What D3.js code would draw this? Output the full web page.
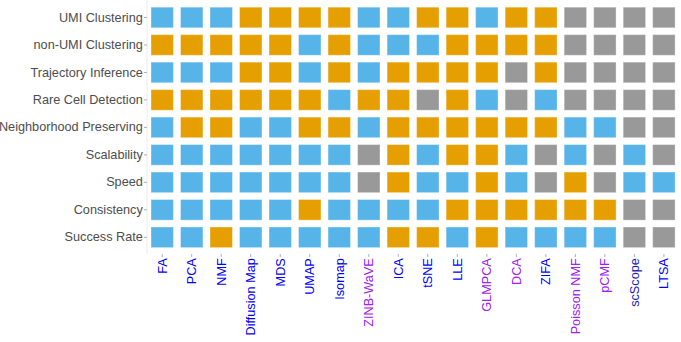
<!DOCTYPE html>
<html>
<head>
<meta charset="utf-8">
<script src="https://cdn.jsdelivr.net/npm/d3@7"></script>
<style>
  html, body { margin: 0; padding: 0; background: #ffffff; }
  svg { display: block; }
  text { font-family: "Liberation Sans", Arial, Helvetica, sans-serif; }
</style>
</head>
<body>
<svg id="chart" width="681" height="342"></svg>
<script>
// Methods along the x axis and the criteria down the y axis
const methods = ["FA", "PCA", "NMF", "Diffusion Map", "MDS", "UMAP", "Isomap", "ZINB-WaVE",
  "ICA", "tSNE", "LLE", "GLMPCA", "DCA", "ZIFA", "Poisson NMF", "pCMF", "scScope", "LTSA"];
const criteria = ["UMI Clustering", "non-UMI Clustering", "Trajectory Inference", "Rare Cell Detection",
  "Neighborhood Preserving", "Scalability", "Speed", "Consistency", "Success Rate"];

// Method family, used to colour the method labels
const methodType = ["lin", "lin", "lin", "lin", "lin", "lin", "lin", "count",
  "lin", "lin", "lin", "count", "count", "lin", "count", "count", "deep", "lin"];

// Rating per criterion (rows) and method (columns): G = good, P = poor, N = not available
const ratings = [
  "GGGPPPPGGPPGPPNNNN",
  "PPPPPGPGGGPPPPNNNN",
  "GGGPPGPGPPPPNPNNNN",
  "PPPPPPGPPNPGNGNNNN",
  "GPPGGPPGPPPPPPGGNN",
  "GGGGGGGNPGPPGNGNGN",
  "GGGGGGGNPGGPGNPNGG",
  "GGGGGPGGGGPPPPPPNN",
  "GGPGGGGGPPGPGGGGNN"
];

const fillColor = { G: "#56B4E9", P: "#E69F00", N: "#999999" };
const labelColor = { lin: "#0000FF", count: "#A020F0", deep: "#1C1CB4" };

const cells = [];
criteria.forEach((c, i) => {
  methods.forEach((m, j) => {
    cells.push({ criterion: c, method: m, rating: ratings[i][j] });
  });
});

const svg = d3.select("#chart");

const x = d3.scaleBand()
  .domain(methods)
  .range([144.5, 681.6])
  .paddingInner(0)
  .paddingOuter(0.1);

const y = d3.scaleBand()
  .domain(criteria)
  .range([1.0, 253.8])
  .paddingInner(0)
  .paddingOuter(0.1);

const tileW = x.bandwidth() * 0.76;
const tileH = y.bandwidth() * 0.75;

// faint panel edge
svg.append("line")
  .attr("x1", 147).attr("x2", 147)
  .attr("y1", 0).attr("y2", 254)
  .attr("stroke", "#ececec").attr("stroke-width", 1);

// tiles
svg.append("g")
  .selectAll("rect")
  .data(cells)
  .join("rect")
  .attr("x", d => x(d.method) + (x.bandwidth() - tileW) / 2)
  .attr("y", d => y(d.criterion) + (y.bandwidth() - tileH) / 2)
  .attr("width", tileW)
  .attr("height", tileH)
  .attr("fill", d => fillColor[d.rating])
  .attr("stroke", "#ffffff")
  .attr("stroke-opacity", 0.35)
  .attr("stroke-width", 1);

// y axis
const yAxis = svg.append("g")
  .attr("transform", "translate(147,0)")
  .call(d3.axisLeft(y).tickSize(3).tickPadding(1.2));
yAxis.select(".domain").remove();
yAxis.selectAll(".tick line").attr("stroke", "#b0b0b0");
yAxis.selectAll(".tick text")
  .attr("fill", "#4d4d4d")
  .style("font-size", "12.7px")
  .style("font-family", "'Liberation Sans', Arial, sans-serif");

// x axis with rotated, coloured labels
const xAxis = svg.append("g")
  .attr("transform", "translate(0,254)")
  .call(d3.axisBottom(x).tickSize(3).tickPadding(1.5));
xAxis.select(".domain").remove();
xAxis.selectAll(".tick line").attr("stroke", "#b0b0b0");
xAxis.selectAll(".tick text")
  .attr("transform", "rotate(-90)")
  .attr("x", -4.2)
  .attr("y", 0)
  .attr("dy", "0.35em")
  .attr("text-anchor", "end")
  .attr("fill", (d, i) => labelColor[methodType[methods.indexOf(d)]])
  .style("font-size", "12.7px")
  .style("font-family", "'Liberation Sans', Arial, sans-serif");
</script>
</body>
</html>
